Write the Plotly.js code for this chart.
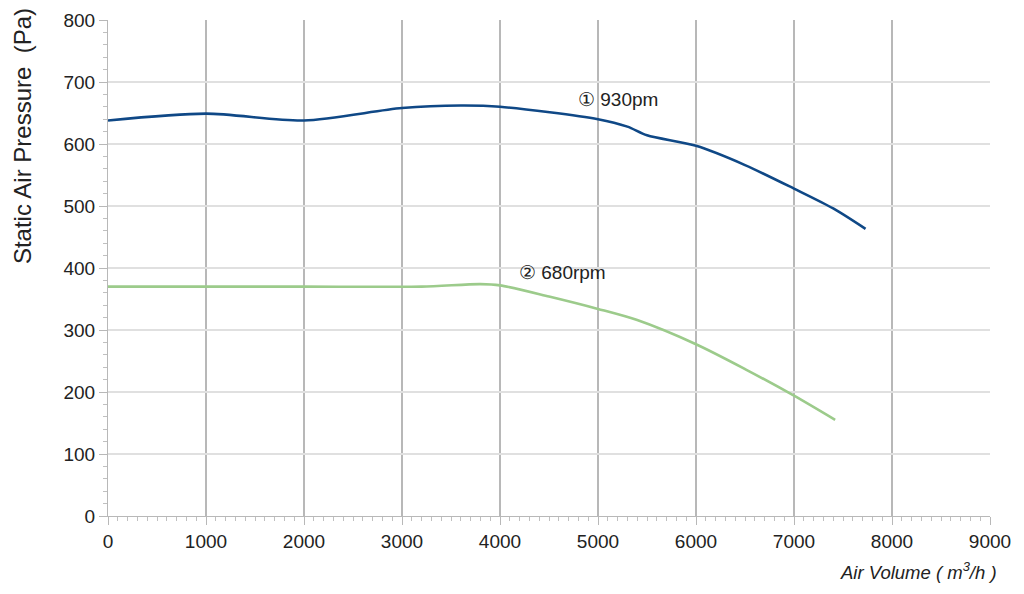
<!DOCTYPE html>
<html>
<head>
<meta charset="utf-8">
<script src="https://cdn.plot.ly/plotly-3.0.1.min.js"></script>
<style>
  html, body { margin: 0; padding: 0; background: #fff; }
  #chart { width: 1024px; height: 594px; }
</style>
</head>
<body>
<div id="chart"></div>
<script>
  // curve points
  const airVolume930 = [0, 1000, 2000, 3000, 3600, 4000, 5000, 5300, 5500, 6000, 6500, 7000, 7400, 7730];
  const pressure930 = [638, 649, 638, 658, 662, 660, 640, 628, 614, 597, 566, 528, 496, 463];

  const airVolume680 = [0, 1000, 2000, 3200, 3800, 4000, 4500, 5000, 5400, 6000, 6500, 7000, 7420];
  const pressure680 = [370, 370, 370, 370, 374, 372, 354, 334, 316, 277, 237, 194, 155];

  const curveLabels = ['\u2460 930pm', '\u2461 680rpm'];
  const labelX = [5200, 4640];
  const labelY = [672, 392];

  const xTicks = [0, 1000, 2000, 3000, 4000, 5000, 6000, 7000, 8000, 9000];
  const yTicks = [0, 100, 200, 300, 400, 500, 600, 700, 800];

  const font = 'Liberation Sans, Arial, sans-serif';

  let traces = [
    {
      x: airVolume930, y: pressure930,
      type: 'scatter', mode: 'lines',
      line: { color: '#0f4886', width: 2.6, shape: 'spline', smoothing: 0.8 },
      hoverinfo: 'skip'
    },
    {
      x: airVolume680, y: pressure680,
      type: 'scatter', mode: 'lines',
      line: { color: '#9ccb8b', width: 2.6, shape: 'spline', smoothing: 0.8 },
      hoverinfo: 'skip'
    }
  ];

  let annotations = curveLabels.map((t, i) => ({
    x: labelX[i], y: labelY[i], xref: 'x', yref: 'y',
    text: t, showarrow: false,
    font: { family: font, size: 19, color: '#222' }
  }));
  // axis titles sit off-centre in the original, so draw them as annotations
  annotations.push({
    x: 1.01, y: -0.083, xref: 'paper', yref: 'paper',
    xanchor: 'right', yanchor: 'top',
    text: '<i>Air Volume ( m<sup>3</sup>/h )</i>', showarrow: false,
    font: { family: font, size: 18.5, color: '#222' }
  });
  annotations.push({
    x: -0.0975, y: 0.766, xref: 'paper', yref: 'paper',
    xanchor: 'center', yanchor: 'middle', textangle: -90,
    text: 'Static Air Pressure  (Pa)', showarrow: false,
    font: { family: font, size: 24, color: '#222' }
  });

  let layout = {
    width: 1024,
    height: 594,
    margin: { l: 108, r: 34, t: 20, b: 78 },
    paper_bgcolor: '#fff',
    plot_bgcolor: '#fff',
    showlegend: false,
    font: { family: font, size: 19, color: '#222' },
    xaxis: {
      range: [0, 9000],
      tickvals: xTicks,
      ticktext: xTicks.map(String),
      ticks: 'outside', ticklen: 8, tickcolor: '#b8b8b8',
      showgrid: true, gridcolor: '#b8b8b8', gridwidth: 1.4,
      showline: true, linecolor: '#b8b8b8', linewidth: 1,
      zeroline: false,
      minor: { dtick: 100, ticks: 'outside', ticklen: 4, tickcolor: '#c0c0c0', showgrid: false },
      tickfont: { family: font, size: 19, color: '#222' }
    },
    yaxis: {
      range: [0, 800],
      tickvals: yTicks,
      ticktext: yTicks.map(String),
      ticks: 'outside', ticklen: 8, tickcolor: '#b8b8b8',
      showgrid: true, gridcolor: '#e0e0e0', gridwidth: 1.6,
      showline: true, linecolor: '#b8b8b8', linewidth: 1,
      zeroline: false,
      minor: { dtick: 20, ticks: 'outside', ticklen: 4, tickcolor: '#c0c0c0', showgrid: false },
      tickfont: { family: font, size: 19, color: '#222' }
    },
    annotations: annotations
  };

  Plotly.newPlot(document.getElementById('chart'), traces, layout, { displayModeBar: false, staticPlot: true });
</script>
</body>
</html>
